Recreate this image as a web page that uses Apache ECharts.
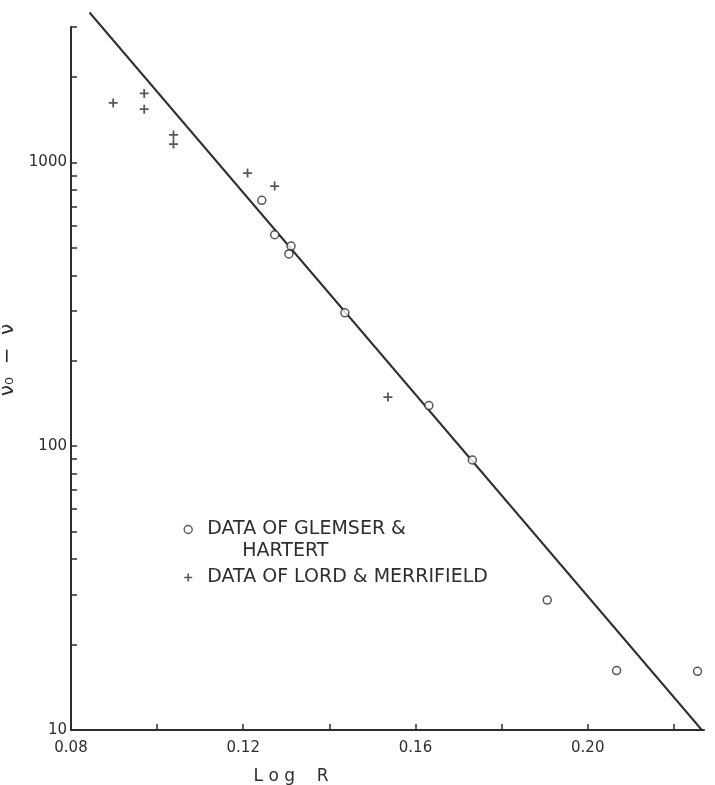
<!DOCTYPE html>
<html>
<head>
<meta charset="utf-8">
<script src="https://cdn.jsdelivr.net/npm/echarts@6.0.0/dist/echarts.min.js"></script>
<style>
  html, body { margin: 0; padding: 0; background: #ffffff; }
  #chart { width: 715px; height: 785px; }
</style>
</head>
<body>
<div id="chart"></div>
<script>
// ---- data ----
const glemserName = 'DATA OF GLEMSER & HARTERT';
const lordName = 'DATA OF LORD & MERRIFIELD';

const glemserX = [0.1243, 0.1273, 0.1311, 0.1306, 0.1436, 0.1631, 0.1732, 0.1906, 0.2067, 0.2255];
const glemserY = [735, 556, 507, 476, 295, 139, 89.4, 28.7, 16.2, 16.1];

const lordX = [0.0898, 0.0970, 0.0970, 0.1038, 0.1038, 0.1210, 0.1273, 0.1536];
const lordY = [1620, 1750, 1540, 1250, 1160, 917, 825, 149];

const fitX = [0.0843, 0.2265];
const fitY = [3375, 10];

const xLabelValues = [0.08, 0.12, 0.16, 0.20];
const xTickValues = [0.10, 0.12, 0.14, 0.16, 0.18, 0.20, 0.22];
const yLabelValues = [10, 100, 1000];
const yTickValues = [20, 30, 40, 50, 60, 70, 80, 90, 100,
                     200, 300, 400, 500, 600, 700, 800, 900, 1000,
                     2000, 3000];

const xTitle = 'L o g    R';
const yTitle = 'ν̃₀  −  ν̃';

// ---- chart ----
const ink = '#2e2e2e';
const font = 'DejaVu Sans';
const plusPath = 'path://M4,0H6V10H4ZM0,4H10V6H0Z';

const zip = (xs, ys) => xs.map((x, i) => [x, ys[i]]);

const chart = echarts.init(document.getElementById('chart'));
chart.setOption({
  animation: false,
  backgroundColor: '#ffffff',
  grid: { left: 71, right: 11, top: 27, bottom: 55, containLabel: false, outerBoundsMode: 'none' },
  legend: {
    orient: 'vertical',
    left: 183.5,
    top: 496.5,
    padding: 0,
    itemGap: 4,
    itemWidth: 8,
    itemHeight: 8,
    selectedMode: false,
    textStyle: { color: ink, fontFamily: font, fontSize: 19, lineHeight: 22 },
    formatter: function (name) {
      if (name === glemserName) return 'DATA OF GLEMSER &\n{h|HARTERT}';
      return name;
    },
    data: [
      {
        name: glemserName,
        icon: 'circle',
        itemStyle: { color: '#ffffff', borderColor: ink, borderWidth: 1.4 },
        textStyle: {
          padding: [22, 0, 0, 10],
          rich: { h: { padding: [0, 0, 0, 35], fontSize: 19, lineHeight: 22, color: ink, fontFamily: font } }
        }
      },
      {
        name: lordName,
        icon: plusPath,
        itemStyle: { color: ink, borderWidth: 0 },
        textStyle: { padding: [0, 0, 0, 10] }
      }
    ]
  },
  xAxis: {
    type: 'value',
    min: 0.08,
    max: 0.227,
    interval: 0.02,
    name: xTitle,
    nameLocation: 'middle',
    nameGap: 38,
    nameTextStyle: { color: ink, fontFamily: font, fontSize: 17, padding: [0, 193, 0, 0] },
    axisLine: { show: true, lineStyle: { color: ink, width: 2 } },
    axisTick: { show: true, inside: true, length: 6, customValues: xTickValues, lineStyle: { color: ink, width: 1.5 } },
    axisLabel: {
      show: true, margin: 11, color: ink, fontFamily: font, fontSize: 15,
      customValues: xLabelValues,
      formatter: v => Number(v).toFixed(2)
    },
    splitLine: { show: false }
  },
  yAxis: {
    type: 'log',
    logBase: 10,
    min: 10,
    max: 3000,
    name: yTitle,
    nameLocation: 'middle',
    nameRotate: 90,
    nameGap: 40,
    nameTextStyle: { color: ink, fontFamily: font, fontSize: 20, padding: [0, 0, 0, 37] },
    axisLine: { show: true, lineStyle: { color: ink, width: 2 } },
    axisTick: { show: true, inside: true, length: 6, customValues: yTickValues, lineStyle: { color: ink, width: 1.5 } },
    axisLabel: {
      show: true, margin: 4, color: ink, fontFamily: font, fontSize: 15,
      customValues: yLabelValues,
      formatter: v => String(Math.round(v))
    },
    minorTick: { show: false },
    splitLine: { show: false }
  },
  series: [
    {
      name: 'fit',
      type: 'line',
      data: zip(fitX, fitY),
      symbol: 'none',
      clip: false,
      lineStyle: { color: ink, width: 2 },
      z: 1
    },
    {
      name: glemserName,
      type: 'scatter',
      data: zip(glemserX, glemserY),
      symbol: 'circle',
      symbolSize: 8,
      itemStyle: { color: '#ffffff', borderColor: ink, borderWidth: 1.5 },
      z: 3
    },
    {
      name: lordName,
      type: 'scatter',
      data: zip(lordX, lordY),
      symbol: plusPath,
      symbolSize: 9,
      itemStyle: { color: ink, borderWidth: 0 },
      z: 3
    }
  ]
});
</script>
</body>
</html>
